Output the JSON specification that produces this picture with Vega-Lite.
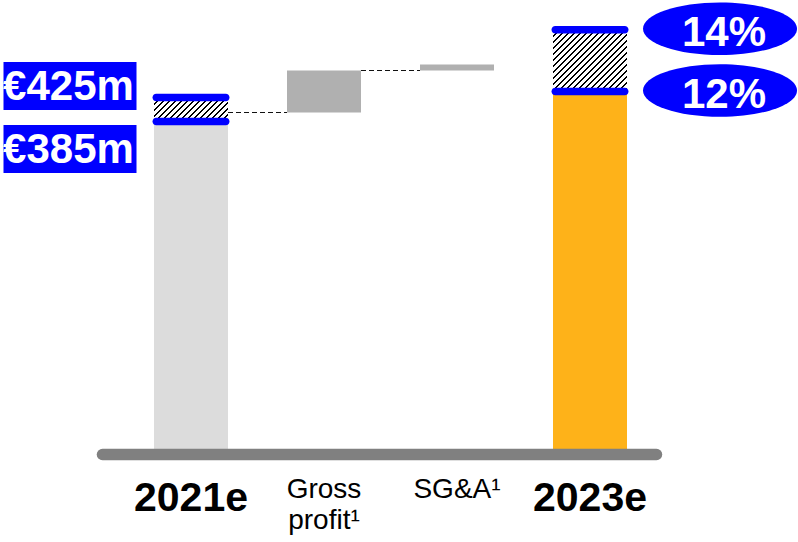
{
  "$schema": "https://vega.github.io/schema/vega-lite/v6.json",
  "width": 554,
  "height": 454,
  "autosize": {"type": "none"},
  "padding": {"left": 102, "top": 0, "right": 142, "bottom": 88},
  "config": {"view": {"stroke": null}},
  "datasets": {
    "bridge": [
      {"step": "2021e", "start": 0, "value": 385},
      {"step": "Gross profit", "start": 400, "value": 470},
      {"step": "SG&A", "start": 470, "value": 480},
      {"step": "2023e", "start": 0, "value": 435}
    ],
    "bounds": [
      {"step": "2021e", "bound": "low", "value": 385, "label": "€385m"},
      {"step": "2021e", "bound": "high", "value": 425, "label": "€425m"},
      {"step": "2023e", "bound": "low", "value": 435, "label": "12%"},
      {"step": "2023e", "bound": "high", "value": 538, "label": "14%"}
    ],
    "links": [
      {"step": "2021e", "to": "Gross profit", "value": 400},
      {"step": "Gross profit", "to": "SG&A", "value": 470}
    ]
  },
  "encoding": {
    "x": {
      "field": "step",
      "type": "nominal",
      "sort": null,
      "scale": {
        "type": "band",
        "domain": ["2021e", "Gross profit", "SG&A", "2023e"],
        "paddingInner": 0.4436,
        "paddingOuter": 0.3045,
        "align": 0.642,
        "round": false
      },
      "axis": {
        "title": null,
        "ticks": false,
        "zindex": 1,
        "domainColor": "#808080",
        "domainWidth": 11.5,
        "domainCap": "round",
        "labelAngle": 0,
        "labelFont": "Liberation Sans",
        "labelColor": "#000000",
        "labelBaseline": "top",
        "labelLineHeight": 31.5,
        "labelOverlap": false,
        "labelLimit": 0,
        "labelFontSize": {"condition": {"test": "datum.value == '2021e' || datum.value == '2023e'", "value": 41}, "value": 28},
        "labelFontWeight": {"condition": {"test": "datum.value == '2021e' || datum.value == '2023e'", "value": "bold"}, "value": "normal"},
        "labelPadding": {"condition": {"test": "datum.value == '2021e' || datum.value == '2023e'", "value": 24.5}, "value": 21},
        "labelExpr": "datum.value == 'Gross profit' ? ['Gross', 'profit¹'] : datum.value == 'SG&A' ? 'SG&A¹' : datum.label"
      }
    },
    "y": {
      "field": "value",
      "type": "quantitative",
      "axis": null,
      "scale": {"domain": [0, 380, 587.5], "range": [454, 124.5, 0], "zero": false, "nice": false}
    }
  },
  "layer": [
    {
      "data": {"name": "links"},
      "mark": {"type": "rule", "color": "#111111", "strokeWidth": 1, "strokeDash": [5, 3], "xOffset": 37, "x2Offset": -37},
      "encoding": {"x2": {"field": "to"}}
    },
    {
      "data": {"name": "bridge"},
      "mark": {"type": "bar", "opacity": 1},
      "encoding": {
        "y2": {"field": "start"},
        "fill": {
          "field": "step",
          "type": "nominal",
          "legend": null,
          "scale": {"domain": ["2021e", "Gross profit", "SG&A", "2023e"], "range": ["#dcdcdc", "#b0b0b0", "#b0b0b0", "#feb219"]}
        }
      }
    },
    {
      "data": {"name": "bounds"},
      "transform": [
        {"filter": "datum.step == '2021e'"},
        {"aggregate": [{"op": "max", "field": "value", "as": "value"}, {"op": "min", "field": "value", "as": "low"}], "groupby": ["step"]}
      ],
      "mark": {
        "type": "bar",
        "fill": {
          "gradient": "linear", "x1": 0, "y1": 0, "x2": 1.1983, "y2": 0.3886,
          "stops": [
            {"offset": 0, "color": "#000000"}, {"offset": 0.0224, "color": "#000000"}, {"offset": 0.0224, "color": "#ffffff"}, {"offset": 0.0612, "color": "#ffffff"},
            {"offset": 0.0612, "color": "#000000"}, {"offset": 0.0836, "color": "#000000"}, {"offset": 0.0836, "color": "#ffffff"}, {"offset": 0.1224, "color": "#ffffff"},
            {"offset": 0.1224, "color": "#000000"}, {"offset": 0.1448, "color": "#000000"}, {"offset": 0.1448, "color": "#ffffff"}, {"offset": 0.1837, "color": "#ffffff"},
            {"offset": 0.1837, "color": "#000000"}, {"offset": 0.2061, "color": "#000000"}, {"offset": 0.2061, "color": "#ffffff"}, {"offset": 0.2449, "color": "#ffffff"},
            {"offset": 0.2449, "color": "#000000"}, {"offset": 0.2673, "color": "#000000"}, {"offset": 0.2673, "color": "#ffffff"}, {"offset": 0.3061, "color": "#ffffff"},
            {"offset": 0.3061, "color": "#000000"}, {"offset": 0.3285, "color": "#000000"}, {"offset": 0.3285, "color": "#ffffff"}, {"offset": 0.3673, "color": "#ffffff"},
            {"offset": 0.3673, "color": "#000000"}, {"offset": 0.3897, "color": "#000000"}, {"offset": 0.3897, "color": "#ffffff"}, {"offset": 0.4285, "color": "#ffffff"},
            {"offset": 0.4285, "color": "#000000"}, {"offset": 0.4509, "color": "#000000"}, {"offset": 0.4509, "color": "#ffffff"}, {"offset": 0.4898, "color": "#ffffff"},
            {"offset": 0.4898, "color": "#000000"}, {"offset": 0.5122, "color": "#000000"}, {"offset": 0.5122, "color": "#ffffff"}, {"offset": 0.551, "color": "#ffffff"},
            {"offset": 0.551, "color": "#000000"}, {"offset": 0.5734, "color": "#000000"}, {"offset": 0.5734, "color": "#ffffff"}, {"offset": 0.6122, "color": "#ffffff"},
            {"offset": 0.6122, "color": "#000000"}, {"offset": 0.6346, "color": "#000000"}, {"offset": 0.6346, "color": "#ffffff"}, {"offset": 0.6734, "color": "#ffffff"},
            {"offset": 0.6734, "color": "#000000"}, {"offset": 0.6958, "color": "#000000"}, {"offset": 0.6958, "color": "#ffffff"}, {"offset": 0.7346, "color": "#ffffff"},
            {"offset": 0.7346, "color": "#000000"}, {"offset": 0.757, "color": "#000000"}, {"offset": 0.757, "color": "#ffffff"}, {"offset": 0.7959, "color": "#ffffff"},
            {"offset": 0.7959, "color": "#000000"}, {"offset": 0.8183, "color": "#000000"}, {"offset": 0.8183, "color": "#ffffff"}, {"offset": 0.8571, "color": "#ffffff"},
            {"offset": 0.8571, "color": "#000000"}, {"offset": 0.8795, "color": "#000000"}, {"offset": 0.8795, "color": "#ffffff"}, {"offset": 0.9183, "color": "#ffffff"},
            {"offset": 0.9183, "color": "#000000"}, {"offset": 0.9407, "color": "#000000"}, {"offset": 0.9407, "color": "#ffffff"}, {"offset": 0.9795, "color": "#ffffff"},
            {"offset": 0.9795, "color": "#000000"}, {"offset": 1, "color": "#000000"}
          ]
        }
      },
      "encoding": {"y2": {"field": "low"}}
    },
    {
      "data": {"name": "bounds"},
      "transform": [
        {"filter": "datum.step == '2023e'"},
        {"aggregate": [{"op": "max", "field": "value", "as": "value"}, {"op": "min", "field": "value", "as": "low"}], "groupby": ["step"]}
      ],
      "mark": {
        "type": "bar",
        "fill": {
          "gradient": "linear", "x1": 0, "y1": 0, "x2": 1.0811, "y2": 0.9029,
          "stops": [
            {"offset": 0, "color": "#000000"}, {"offset": 0.0162, "color": "#000000"}, {"offset": 0.0162, "color": "#ffffff"}, {"offset": 0.0442, "color": "#ffffff"},
            {"offset": 0.0442, "color": "#000000"}, {"offset": 0.0604, "color": "#000000"}, {"offset": 0.0604, "color": "#ffffff"}, {"offset": 0.0884, "color": "#ffffff"},
            {"offset": 0.0884, "color": "#000000"}, {"offset": 0.1046, "color": "#000000"}, {"offset": 0.1046, "color": "#ffffff"}, {"offset": 0.1325, "color": "#ffffff"},
            {"offset": 0.1325, "color": "#000000"}, {"offset": 0.1487, "color": "#000000"}, {"offset": 0.1487, "color": "#ffffff"}, {"offset": 0.1767, "color": "#ffffff"},
            {"offset": 0.1767, "color": "#000000"}, {"offset": 0.1929, "color": "#000000"}, {"offset": 0.1929, "color": "#ffffff"}, {"offset": 0.2209, "color": "#ffffff"},
            {"offset": 0.2209, "color": "#000000"}, {"offset": 0.2371, "color": "#000000"}, {"offset": 0.2371, "color": "#ffffff"}, {"offset": 0.2651, "color": "#ffffff"},
            {"offset": 0.2651, "color": "#000000"}, {"offset": 0.2813, "color": "#000000"}, {"offset": 0.2813, "color": "#ffffff"}, {"offset": 0.3093, "color": "#ffffff"},
            {"offset": 0.3093, "color": "#000000"}, {"offset": 0.3255, "color": "#000000"}, {"offset": 0.3255, "color": "#ffffff"}, {"offset": 0.3534, "color": "#ffffff"},
            {"offset": 0.3534, "color": "#000000"}, {"offset": 0.3696, "color": "#000000"}, {"offset": 0.3696, "color": "#ffffff"}, {"offset": 0.3976, "color": "#ffffff"},
            {"offset": 0.3976, "color": "#000000"}, {"offset": 0.4138, "color": "#000000"}, {"offset": 0.4138, "color": "#ffffff"}, {"offset": 0.4418, "color": "#ffffff"},
            {"offset": 0.4418, "color": "#000000"}, {"offset": 0.458, "color": "#000000"}, {"offset": 0.458, "color": "#ffffff"}, {"offset": 0.486, "color": "#ffffff"},
            {"offset": 0.486, "color": "#000000"}, {"offset": 0.5022, "color": "#000000"}, {"offset": 0.5022, "color": "#ffffff"}, {"offset": 0.5302, "color": "#ffffff"},
            {"offset": 0.5302, "color": "#000000"}, {"offset": 0.5464, "color": "#000000"}, {"offset": 0.5464, "color": "#ffffff"}, {"offset": 0.5743, "color": "#ffffff"},
            {"offset": 0.5743, "color": "#000000"}, {"offset": 0.5905, "color": "#000000"}, {"offset": 0.5905, "color": "#ffffff"}, {"offset": 0.6185, "color": "#ffffff"},
            {"offset": 0.6185, "color": "#000000"}, {"offset": 0.6347, "color": "#000000"}, {"offset": 0.6347, "color": "#ffffff"}, {"offset": 0.6627, "color": "#ffffff"},
            {"offset": 0.6627, "color": "#000000"}, {"offset": 0.6789, "color": "#000000"}, {"offset": 0.6789, "color": "#ffffff"}, {"offset": 0.7069, "color": "#ffffff"},
            {"offset": 0.7069, "color": "#000000"}, {"offset": 0.7231, "color": "#000000"}, {"offset": 0.7231, "color": "#ffffff"}, {"offset": 0.7511, "color": "#ffffff"},
            {"offset": 0.7511, "color": "#000000"}, {"offset": 0.7673, "color": "#000000"}, {"offset": 0.7673, "color": "#ffffff"}, {"offset": 0.7952, "color": "#ffffff"},
            {"offset": 0.7952, "color": "#000000"}, {"offset": 0.8114, "color": "#000000"}, {"offset": 0.8114, "color": "#ffffff"}, {"offset": 0.8394, "color": "#ffffff"},
            {"offset": 0.8394, "color": "#000000"}, {"offset": 0.8556, "color": "#000000"}, {"offset": 0.8556, "color": "#ffffff"}, {"offset": 0.8836, "color": "#ffffff"},
            {"offset": 0.8836, "color": "#000000"}, {"offset": 0.8998, "color": "#000000"}, {"offset": 0.8998, "color": "#ffffff"}, {"offset": 0.9278, "color": "#ffffff"},
            {"offset": 0.9278, "color": "#000000"}, {"offset": 0.944, "color": "#000000"}, {"offset": 0.944, "color": "#ffffff"}, {"offset": 0.972, "color": "#ffffff"},
            {"offset": 0.972, "color": "#000000"}, {"offset": 0.9882, "color": "#000000"}, {"offset": 0.9882, "color": "#ffffff"}, {"offset": 1, "color": "#ffffff"}
          ]
        }
      },
      "encoding": {"y2": {"field": "low"}}
    },
    {
      "data": {"name": "bounds"},
      "mark": {"type": "tick", "color": "#0000ff", "opacity": 1, "size": 77, "thickness": 7.5, "cornerRadius": 3.75}
    },
    {
      "data": {"name": "bounds"},
      "transform": [{"filter": "datum.step == '2021e' && datum.bound == 'high'"}],
      "layer": [
        {"mark": {"type": "point", "shape": "M-1,-0.3609H1V0.3609H-1Z", "size": 17689, "filled": true, "color": "#0000ff", "opacity": 1, "strokeWidth": 0, "xOffset": -121, "yOffset": -11.5}},
        {"mark": {"type": "text", "font": "Liberation Sans", "fontSize": 42, "fontWeight": "bold", "color": "#ffffff", "align": "center", "baseline": "middle", "xOffset": -122.5, "yOffset": -10.5}, "encoding": {"text": {"field": "label"}}}
      ]
    },
    {
      "data": {"name": "bounds"},
      "transform": [{"filter": "datum.step == '2021e' && datum.bound == 'low'"}],
      "layer": [
        {"mark": {"type": "point", "shape": "M-1,-0.3609H1V0.3609H-1Z", "size": 17689, "filled": true, "color": "#0000ff", "opacity": 1, "strokeWidth": 0, "xOffset": -121, "yOffset": 27.5}},
        {"mark": {"type": "text", "font": "Liberation Sans", "fontSize": 42, "fontWeight": "bold", "color": "#ffffff", "align": "center", "baseline": "middle", "xOffset": -122.5, "yOffset": 28}, "encoding": {"text": {"field": "label"}}}
      ]
    },
    {
      "data": {"name": "bounds"},
      "transform": [{"filter": "datum.step == '2023e'"}],
      "layer": [
        {"mark": {"type": "point", "shape": "M-1,0A1,0.3416,0,1,1,1,0A1,0.3416,0,1,1,-1,0Z", "size": 23716, "filled": true, "color": "#0000ff", "opacity": 1, "strokeWidth": 0, "xOffset": 130, "yOffset": -1}},
        {"mark": {"type": "text", "font": "Liberation Sans", "fontSize": 42, "fontWeight": "bold", "color": "#ffffff", "align": "center", "baseline": "middle", "xOffset": 134, "yOffset": 3}, "encoding": {"text": {"field": "label"}}}
      ]
    }
  ]
}
